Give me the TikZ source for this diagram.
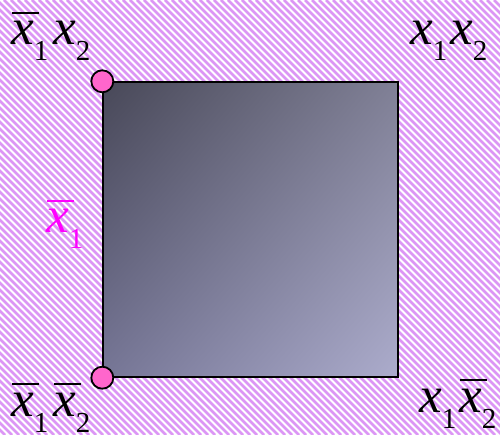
\documentclass[tikz,border=0pt]{standalone}
\usepackage{fontspec}
\setmainfont{Liberation Serif}
\usetikzlibrary{shadings}
\definecolor{stripe}{RGB}{220,150,245}
\definecolor{dotpink}{RGB}{255,102,204}
\definecolor{sqdark}{RGB}{72,72,88}
\definecolor{sqlight}{RGB}{172,172,204}
\definecolor{sqmidA}{RGB}{128,128,150}
\definecolor{sqmidB}{RGB}{118,118,150}
\definecolor{magtext}{RGB}{255,0,255}
\newcommand\sbx[1]{\raisebox{-16pt}{\fontsize{29}{29}\selectfont #1}}
\newcommand\vxp[1]{\textit{x}\sbx{#1}}
\newcommand\vxb[1]{\makebox[0pt][l]{\hspace{1pt}\rule[31pt]{27pt}{2.2pt}}\textit{x}\sbx{#1}}
\tikzset{
  lbl/.style={anchor=base west, inner sep=0pt, font=\fontsize{51}{58}\selectfont},
  dot/.style={circle, draw=black, line width=1.8pt, fill=dotpink, minimum size=22pt, inner sep=0pt},
  stripeline/.style={draw=stripe, line width=2.6pt},
}
\begin{document}
\begin{tikzpicture}[x=1pt,y=-1pt]
\useasboundingbox (0,0) rectangle (500,435);
\fill[white] (0,0) rectangle (500,435);
\begin{scope}
\clip (0,0) rectangle (500,435);
\foreach \i in {-500,-493,...,510} {
  \draw[stripeline] (\i,0) -- (\i+435,435);
}
\end{scope}
\node[minimum width=295pt, minimum height=295pt, inner sep=0pt, draw=black, line width=1.4pt,
  upper left=sqdark, lower right=sqlight, upper right=sqmidA, lower left=sqmidB,
  shade] (sq) at (250.5,229.5) {};
\node[dot] (tl) at (sq.north west) {};
\node[dot] (bl) at (sq.south west) {};
\node[lbl] (l00) at (11,45) {\vxb{1}\hspace{5pt}\vxp{2}};
\node[lbl] (l11) at (410,45) {\vxp{1}\hspace{3pt}\vxp{2}};
\node[lbl] (l01) at (11,416) {\vxb{1}\hspace{5pt}\vxb{2}};
\node[lbl] (l10) at (419,412) {\vxp{1}\hspace{3pt}\vxb{2}};
\node[lbl, text=magtext] (lm) at (46,233) {\vxb{1}};
\end{tikzpicture}
\end{document}
